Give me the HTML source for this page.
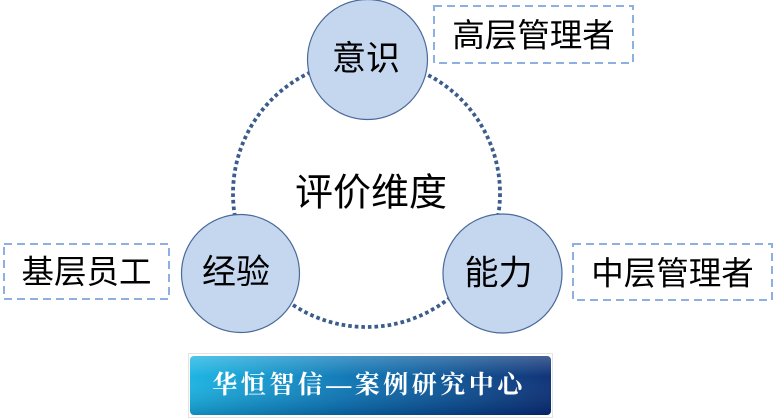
<!DOCTYPE html>
<html>
<head>
<meta charset="utf-8">
<style>
  html, body { margin:0; padding:0; background:#ffffff; }
  body { width:776px; height:418px; overflow:hidden; }
  svg { display:block; }
  .t { font-family: "Liberation Sans", "Noto Sans CJK SC", sans-serif; fill:#000; }
  .b { font-family: "Liberation Serif", "Noto Serif CJK SC", serif; fill:#fff; font-weight:700; }
</style>
</head>
<body>
<svg width="776" height="418" viewBox="0 0 776 418" xmlns="http://www.w3.org/2000/svg">
  <defs>
    <linearGradient id="bh" x1="0" y1="0" x2="1" y2="0">
      <stop offset="0" stop-color="#15b2e2"/>
      <stop offset="0.45" stop-color="#0872b2"/>
      <stop offset="1" stop-color="#062c72"/>
    </linearGradient>
    <linearGradient id="bv" x1="0" y1="0" x2="0" y2="1">
      <stop offset="0" stop-color="#ffffff" stop-opacity="0.25"/>
      <stop offset="0.35" stop-color="#ffffff" stop-opacity="0.04"/>
      <stop offset="1" stop-color="#000030" stop-opacity="0.22"/>
    </linearGradient>
  </defs>

  <!-- dotted big circle -->
  <circle cx="366.5" cy="193.5" r="133.5" fill="none" stroke="#3b5c8c" stroke-width="3.8" stroke-dasharray="3.6 3"/>

  <!-- nodes -->
  <circle cx="367.5" cy="59.5" r="60" fill="#c5d7ef" stroke="#4a6a9a" stroke-width="1.2"/>
  <circle cx="240.5" cy="273.5" r="59" fill="#c5d7ef" stroke="#4a6a9a" stroke-width="1.2"/>
  <circle cx="502.5" cy="273.5" r="59.5" fill="#c5d7ef" stroke="#4a6a9a" stroke-width="1.2"/>

  <text class="t" x="366" y="59" font-size="34" text-anchor="middle" dominant-baseline="central">意识</text>
  <text class="t" x="236" y="272.5" font-size="34" text-anchor="middle" dominant-baseline="central">经验</text>
  <text class="t" x="498.5" y="273.5" font-size="34" text-anchor="middle" dominant-baseline="central">能力</text>

  <text class="t" x="371" y="193.5" font-size="38" text-anchor="middle" dominant-baseline="central">评价维度</text>

  <!-- dashed label boxes -->
  <rect x="434" y="6" width="199" height="57" fill="none" stroke="#8eb0e0" stroke-width="2" stroke-dasharray="8 5"/>
  <rect x="4" y="244" width="165" height="55" fill="none" stroke="#8eb0e0" stroke-width="2" stroke-dasharray="8 5"/>
  <rect x="573" y="244" width="199" height="56" fill="none" stroke="#8eb0e0" stroke-width="2" stroke-dasharray="8 5"/>

  <text class="t" x="533.5" y="35.5" font-size="32.5" text-anchor="middle" dominant-baseline="central">高层管理者</text>
  <text class="t" x="86.5" y="272" font-size="32.5" text-anchor="middle" dominant-baseline="central">基层员工</text>
  <text class="t" x="672.5" y="273.5" font-size="32.5" text-anchor="middle" dominant-baseline="central">中层管理者</text>

  <!-- banner -->
  <rect x="188.5" y="353.5" width="364" height="64" fill="none" stroke="#c8c8c8" stroke-width="1" stroke-dasharray="1 1"/>
  <rect x="190" y="356" width="361" height="59" rx="4" fill="url(#bh)"/>
  <rect x="190" y="356" width="361" height="59" rx="4" fill="url(#bv)"/>
  <text class="b" x="369" y="385.5" font-size="25" letter-spacing="3.5" text-anchor="middle" dominant-baseline="central">华恒智信—案例研究中心</text>
</svg>
</body>
</html>
